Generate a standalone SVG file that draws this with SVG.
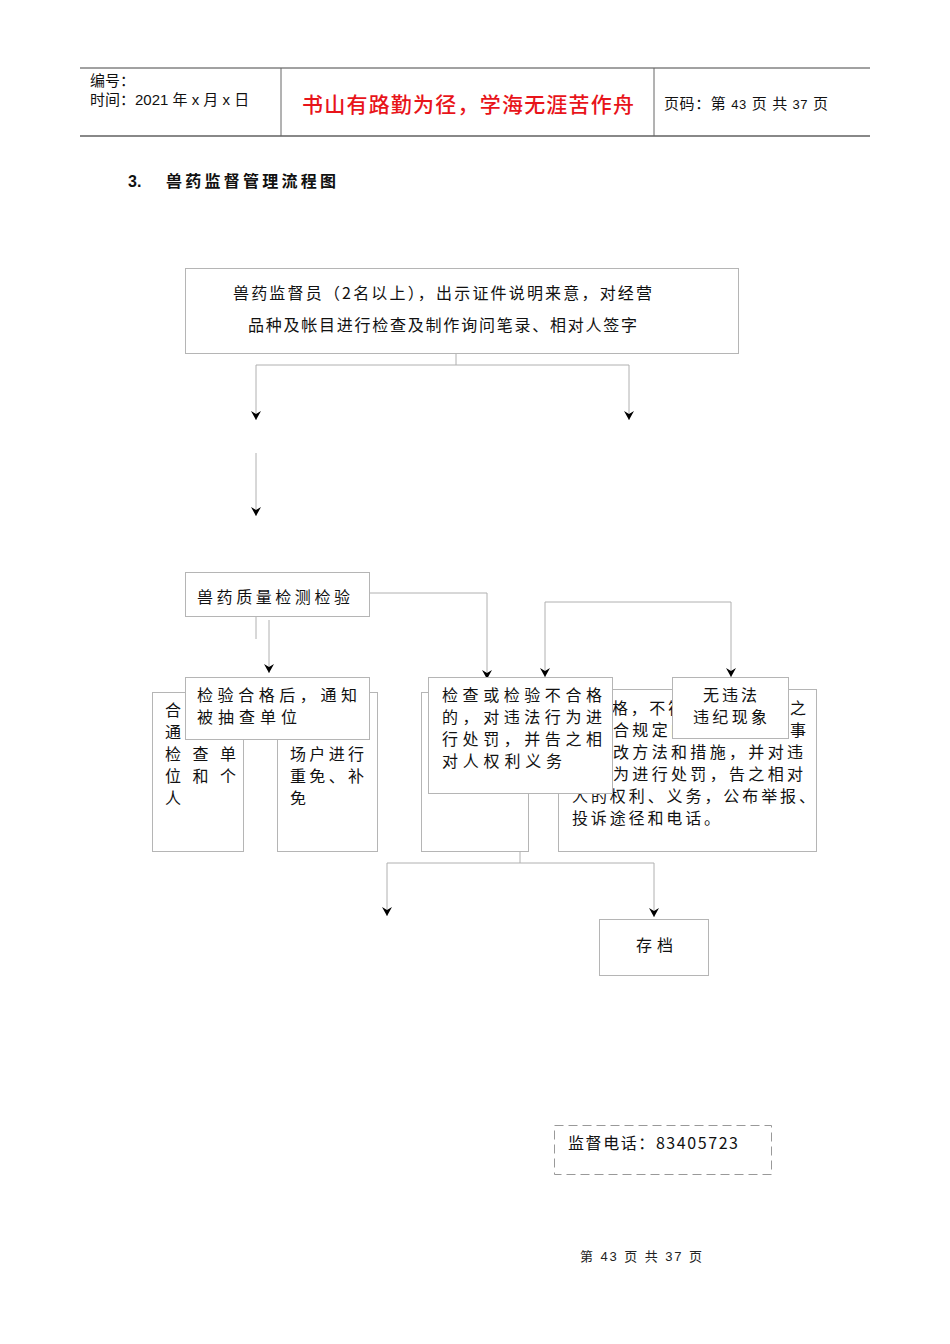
<svg xmlns="http://www.w3.org/2000/svg" width="950" height="1344" viewBox="0 0 950 1344">
<style>
.t{font-family:"Noto Sans CJK SC","Liberation Sans",sans-serif;font-size:16px;fill:#111}
.h{font-family:"Liberation Sans","Noto Sans CJK SC",sans-serif;font-size:15px;fill:#111}
.box{fill:#fff;stroke:#b5b5b5;stroke-width:1}
.ln{fill:none;stroke:#b0b0b0;stroke-width:1}
</style>
<defs>
<marker id="arr" viewBox="0 -5 10 10" refX="9" refY="0" markerWidth="10" markerHeight="10" markerUnits="userSpaceOnUse" orient="auto">
<path d="M0,-5 L9,0 L0,5 L3,0 Z" fill="#000"/>
</marker>
</defs>
<rect width="950" height="1344" fill="#fff"/>
<g id="header">
<line x1="80" y1="68" x2="870" y2="68" stroke="#444" stroke-width="1"/>
<line x1="80" y1="136" x2="870" y2="136" stroke="#888" stroke-width="2"/>
<line x1="281" y1="68" x2="281" y2="136" stroke="#666" stroke-width="1"/>
<line x1="654" y1="68" x2="654" y2="136" stroke="#666" stroke-width="1"/>
<text class="h" x="90" y="86">编号：</text>
<text class="h" x="90" y="105">时间：2021 年 x 月 x 日</text>
<text x="302" y="112" textLength="332" lengthAdjust="spacing" style="font-family:'Noto Sans CJK SC',sans-serif;font-size:21px;fill:#e8141a;font-weight:500">书山有路勤为径，学海无涯苦作舟</text>
<text class="h" x="664" y="109" textLength="164" lengthAdjust="spacing">页码：第 <tspan font-size="13">43</tspan> 页  共 <tspan font-size="13">37</tspan> 页</text>
</g>
<g id="title">
<text x="128" y="187" style="font-family:'Liberation Sans',sans-serif;font-size:16px;font-weight:bold;fill:#111">3.</text>
<text x="166" y="187" textLength="170" lengthAdjust="spacing" style="font-family:'Noto Sans CJK SC',sans-serif;font-size:16px;font-weight:bold;fill:#111">兽药监督管理流程图</text>
</g>
<g id="connectors">
<polyline class="ln" points="456,353 456,365"/>
<polyline class="ln" points="256,365 629,365"/>
<line class="ln" x1="256" y1="365" x2="256" y2="420" marker-end="url(#arr)"/>
<line class="ln" x1="629" y1="365" x2="629" y2="420" marker-end="url(#arr)"/>
<line class="ln" x1="256" y1="453" x2="256" y2="516" marker-end="url(#arr)"/>
<line class="ln" x1="256" y1="616" x2="256" y2="639"/>
<line class="ln" x1="269" y1="620" x2="269" y2="673" marker-end="url(#arr)"/>
<polyline class="ln" points="369,593 487,593 487,679" marker-end="url(#arr)"/>
<polyline class="ln" points="545,602 731,602"/>
<line class="ln" x1="545" y1="602" x2="545" y2="677" marker-end="url(#arr)"/>
<line class="ln" x1="731" y1="602" x2="731" y2="677" marker-end="url(#arr)"/>
<line class="ln" x1="520" y1="793" x2="520" y2="863"/>
<polyline class="ln" points="387,863 654,863"/>
<line class="ln" x1="387" y1="863" x2="387" y2="916" marker-end="url(#arr)"/>
<line class="ln" x1="654" y1="863" x2="654" y2="917" marker-end="url(#arr)"/>
</g>
<g id="n-supervisor">
<rect class="box" x="185.5" y="268.5" width="553" height="85"/>
<text class="t" x="233" y="299" textLength="419" lengthAdjust="spacing">兽药监督员（2名以上），出示证件说明来意，对经营</text>
<text class="t" x="248" y="331" textLength="389" lengthAdjust="spacing">品种及帐目进行检查及制作询问笔录、相对人签字</text>
</g>
<g id="n-quality">
<rect class="box" x="185.5" y="572.5" width="184" height="44"/>
<text class="t" x="197" y="603" textLength="153" lengthAdjust="spacing" font-size="17">兽药质量检测检验</text>
</g>
<g id="n-left-back">
<rect class="box" x="152.5" y="692.5" width="91" height="159"/>
<text class="t" x="165" y="716">合</text>
<text class="t" x="165" y="738">通</text>
<text class="t" x="165" y="760" textLength="71" lengthAdjust="spacing">检查单</text>
<text class="t" x="165" y="782" textLength="71" lengthAdjust="spacing">位和个</text>
<text class="t" x="165" y="804">人</text>
</g>
<g id="n-mid-back">
<rect class="box" x="277.5" y="692.5" width="100" height="159"/>
<text class="t" x="290" y="760" textLength="74" lengthAdjust="spacing">场户进行</text>
<text class="t" x="290" y="782" textLength="74" lengthAdjust="spacing">重免、补</text>
<text class="t" x="290" y="804">免</text>
</g>
<g id="n-qualified">
<rect class="box" x="185.5" y="677.5" width="184" height="62"/>
<text class="t" x="197" y="701" textLength="160" lengthAdjust="spacing">检验合格后，通知</text>
<text class="t" x="197" y="723" textLength="100" lengthAdjust="spacing">被抽查单位</text>
</g>
<g id="n-right-back">
<rect class="box" x="558.5" y="689.5" width="258" height="162"/>
<text class="t" x="612" y="714" textLength="72" lengthAdjust="spacing">格，不符</text>
<text class="t" x="790" y="714">之</text>
<text class="t" x="613" y="736" textLength="74" lengthAdjust="spacing">合规定的</text>
<text class="t" x="790" y="736">事</text>
<text class="t" x="613" y="758" textLength="190" lengthAdjust="spacing">改方法和措施，并对违</text>
<text class="t" x="613" y="780" textLength="190" lengthAdjust="spacing">为进行处罚，告之相对</text>
<text class="t" x="572" y="802" textLength="243" lengthAdjust="spacing">人的权利、义务，公布举报、</text>
<text class="t" x="572" y="824" textLength="148" lengthAdjust="spacing">投诉途径和电话。</text>
</g>
<g id="n-center-back">
<rect class="box" x="421.5" y="692.5" width="107" height="159"/>
</g>
<g id="n-unqualified">
<rect class="box" x="428.5" y="677.5" width="184" height="116"/>
<text class="t" x="442" y="701" textLength="160" lengthAdjust="spacing">检查或检验不合格</text>
<text class="t" x="442" y="723" textLength="160" lengthAdjust="spacing">的，对违法行为进</text>
<text class="t" x="442" y="745" textLength="160" lengthAdjust="spacing">行处罚，并告之相</text>
<text class="t" x="442" y="767" textLength="120" lengthAdjust="spacing">对人权利义务</text>
</g>
<g id="n-noviolation">
<rect class="box" x="672.5" y="677.5" width="116" height="61"/>
<text class="t" x="703" y="701" textLength="54" lengthAdjust="spacing">无违法</text>
<text class="t" x="693" y="723" textLength="74" lengthAdjust="spacing">违纪现象</text>
</g>
<g id="n-archive">
<rect class="box" x="599.5" y="919.5" width="109" height="56"/>
<text class="t" x="636" y="951" textLength="37" lengthAdjust="spacing">存档</text>
</g>
<g id="n-phone">
<rect x="554.5" y="1125.5" width="217" height="49" fill="none" stroke="#999" stroke-width="1" stroke-dasharray="9,5"/>
<text class="t" x="568" y="1149" textLength="170" lengthAdjust="spacing">监督电话：83405723</text>
</g>
<g id="footer">
<text x="580" y="1261" textLength="122" lengthAdjust="spacing" style="font-family:'Liberation Sans','Noto Sans CJK SC',sans-serif;font-size:13px;fill:#222">第 43 页 共 37 页</text>
</g>
</svg>
